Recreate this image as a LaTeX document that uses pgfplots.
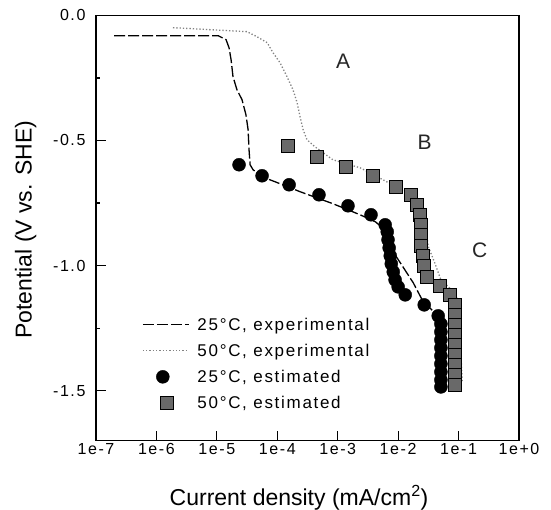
\documentclass[border=0pt]{standalone}
\usepackage{fontspec}
\setmainfont{Liberation Sans}
\newfontfamily\tickfont[LetterSpace=10]{Liberation Sans}
\newfontfamily\legfont[LetterSpace=10]{Liberation Sans}
\usepackage{pgfplots}
\pgfplotsset{compat=1.18}
\definecolor{sqfill}{RGB}{105,105,105}
\definecolor{dotgray}{RGB}{130,130,130}
\pgfplotsset{
  lineleg/.style={legend image code/.code={\draw[##1] (0pt,0pt) -- (46pt,0pt);}},
  circleg/.style={legend image code/.code={\draw[##1,overlay] plot coordinates {(20pt,0pt)};}},
  sqleg/.style={legend image code/.code={\draw[##1,overlay] plot coordinates {(24pt,0pt)};}},
}
\begin{document}
\begin{tikzpicture}
\useasboundingbox (-96pt,-69pt) rectangle (455pt,440.7pt);
\begin{axis}[
  scale only axis, width=423pt, height=425.3pt,
  xmode=log, xmin=1e-7, xmax=1, ymin=-1.7, ymax=0,
  xtick={1e-7,1e-6,1e-5,1e-4,1e-3,1e-2,1e-1,1},
  xticklabels={1e-7,1e-6,1e-5,1e-4,1e-3,1e-2,1e-1,1e+0},
  xminorticks=false,
  ytick={-1.5,-1,-0.5,0}, yticklabels={-1.5,-1.0,-0.5,0.0},
  minor ytick={-1.25,-0.75,-0.25},
  tick pos=left, tick align=inside,
  major tick length=10pt, minor tick length=4pt,
  tick style={black, line width=1.2pt},
  axis line style={line width=1.3pt},
  ticklabel style={font=\tickfont\fontsize{16}{19}\selectfont},
  xticklabel style={yshift=1pt},
  yticklabel style={xshift=-7pt},
  every axis y label/.style={at={(axis description cs:-0.152,0.496)}, rotate=90, anchor=base, font=\fontsize{23}{27}\selectfont},
  every axis x label/.style={at={(axis description cs:0.48,-0.152)}, anchor=base, font=\fontsize{23}{27}\selectfont},
  xlabel={Current density (mA/cm\textsuperscript{2})},
  ylabel={Potential (V vs. SHE)},
  legend cell align=left,
  legend style={at={(axis description cs:0.1087,0.2873)}, anchor=north west, draw=none, fill=none, inner sep=0pt, row sep=13.8pt, font=\legfont\fontsize{17}{20}\selectfont, nodes={inner sep=0pt, text height=12.2pt, text depth=0pt}},
]
\addplot[black, line width=1.3pt, dash pattern=on 11pt off 3pt, lineleg] coordinates {
(2.0e-7,-0.081) (1.05e-5,-0.081) (1.42e-5,-0.097) (1.59e-5,-0.129) (1.72e-5,-0.177)
(1.85e-5,-0.245) (2.15e-5,-0.297) (2.61e-5,-0.337) (3.03e-5,-0.397) (3.29e-5,-0.457)
(3.41e-5,-0.537) (3.55e-5,-0.597) (3.98e-5,-0.617) (5.6e-5,-0.645) (9.2e-5,-0.665)
(2.4e-4,-0.705) (8.4e-4,-0.753) (2.35e-3,-0.797) (4.2e-3,-0.825) (6.1e-3,-0.857)
(8.9e-3,-0.957) (1.2e-2,-1.005) (1.78e-2,-1.069) (2.5e-2,-1.137) (3.6e-2,-1.177)
(4.95e-2,-1.217) (5.1e-2,-1.485)
};
\addlegendentry{\hspace{8pt}25°C, experimental}
\addplot[dotgray, line width=1.3pt, dash pattern=on 1.3pt off 2pt, lineleg] coordinates {
(1.88e-6,-0.049) (3.16e-5,-0.065) (4.6e-5,-0.085) (6.8e-5,-0.109) (8.5e-5,-0.149)
(1.11e-4,-0.189) (1.45e-4,-0.245) (1.82e-4,-0.297) (2.13e-4,-0.349) (2.38e-4,-0.405)
(2.68e-4,-0.457) (3.1e-4,-0.497) (4.2e-4,-0.525) (8.3e-4,-0.577) (2.34e-3,-0.609)
(5.6e-3,-0.657) (9.3e-3,-0.685) (1.64e-2,-0.713) (2.5e-2,-0.757) (2.8e-2,-0.837)
(3.16e-2,-0.925) (3.98e-2,-0.985) (5.1e-2,-1.057) (7.7e-2,-1.097) (9.8e-2,-1.137)
(1.07e-1,-1.297) (1.15e-1,-1.465)
};
\addlegendentry{\hspace{8pt}50°C, experimental}
\addplot[only marks, mark=*, mark size=6.5pt, black, circleg] coordinates {
(2.33e-5,-0.597) (5.6e-5,-0.641) (1.57e-4,-0.677) (4.9e-4,-0.717) (1.48e-3,-0.761)
(3.56e-3,-0.797) (6.1e-3,-0.837) (6.6e-3,-0.865) (6.8e-3,-0.897) (7.1e-3,-0.929)
(7.4e-3,-0.961) (7.7e-3,-0.993) (8.3e-3,-1.025) (8.9e-3,-1.057) (1.0e-2,-1.085)
(1.31e-2,-1.117) (2.7e-2,-1.157) (4.6e-2,-1.201) (5.1e-2,-1.233) (5.1e-2,-1.265)
(5.1e-2,-1.297) (5.1e-2,-1.329) (5.1e-2,-1.361) (5.1e-2,-1.393) (5.1e-2,-1.425)
(5.1e-2,-1.457) (5.1e-2,-1.485)
};
\addlegendentry{\hspace{8pt}25°C, estimated}
\addplot[only marks, mark=square*, mark size=6.3pt, mark options={fill=sqfill, draw=black, line width=1pt}, sqleg] coordinates {
(1.51e-4,-0.521) (4.56e-4,-0.565) (1.38e-3,-0.605) (3.86e-3,-0.641) (9.3e-3,-0.685)
(1.64e-2,-0.717) (2.07e-2,-0.757) (2.31e-2,-0.797) (2.4e-2,-0.837) (2.4e-2,-0.877)
(2.4e-2,-0.921) (2.6e-2,-0.961) (2.69e-2,-1.001) (3.02e-2,-1.045) (4.95e-2,-1.081)
(7.2e-2,-1.117) (8.8e-2,-1.157) (8.8e-2,-1.197) (8.8e-2,-1.237) (8.8e-2,-1.277)
(8.8e-2,-1.317) (8.8e-2,-1.357) (8.8e-2,-1.397) (8.8e-2,-1.437) (8.8e-2,-1.477)
};
\addlegendentry{\hspace{8pt}50°C, estimated}
\node[font=\fontsize{21}{25}\selectfont, text=black!85] at (axis cs:1.23e-3,-0.182) {A};
\node[font=\fontsize{21}{25}\selectfont, text=black!85] at (axis cs:2.75e-2,-0.509) {B};
\node[font=\fontsize{21}{25}\selectfont, text=black!85] at (axis cs:2.24e-1,-0.939) {C};
\end{axis}
\end{tikzpicture}
\end{document}
